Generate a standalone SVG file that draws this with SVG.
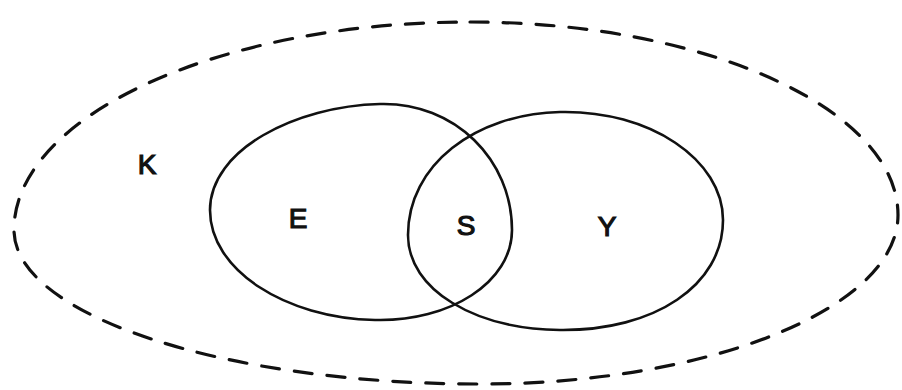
<svg xmlns="http://www.w3.org/2000/svg" width="902" height="390" viewBox="0 0 902 390">
<style>
.set{fill:none;stroke:#111;stroke-width:2.6;stroke-linecap:round;stroke-linejoin:round}
.outer{fill:none;stroke:#111;stroke-width:3.2;stroke-dasharray:18 15;stroke-linecap:round}
.lbl{font-family:"Liberation Sans",Arial,sans-serif;font-size:28px;fill:#111;stroke:#111;stroke-width:1.2;text-anchor:middle}
</style>
<rect width="902" height="390" fill="#fff"/>
<g id="K">
<path class="outer" d="M470,22 C705,22 898,109 898,215 C898,308 710,384 480,384 C224,384 14,315 14,230 C14,116 219,22 470,22 Z"/>
<text class="lbl" x="147" y="174">K</text>
</g>
<g id="E">
<path class="set" d="M380,104 C455,102 512,160 512,230 C512,282 450,322 375,320 C285,318 210,270 210,210 C210,150 295,106 380,104 Z"/>
<text class="lbl" x="298" y="228">E</text>
</g>
<g id="Y">
<path class="set" d="M560,112 C650,110 723,160 723,220 C723,285 655,331 560,330 C475,329 408,290 408,235 C408,165 475,114 560,112 Z"/>
<text class="lbl" x="607" y="236">Y</text>
</g>
<g id="S">
<text class="lbl" x="466" y="235">S</text>
</g>
<g id="connectors"></g>
</svg>
